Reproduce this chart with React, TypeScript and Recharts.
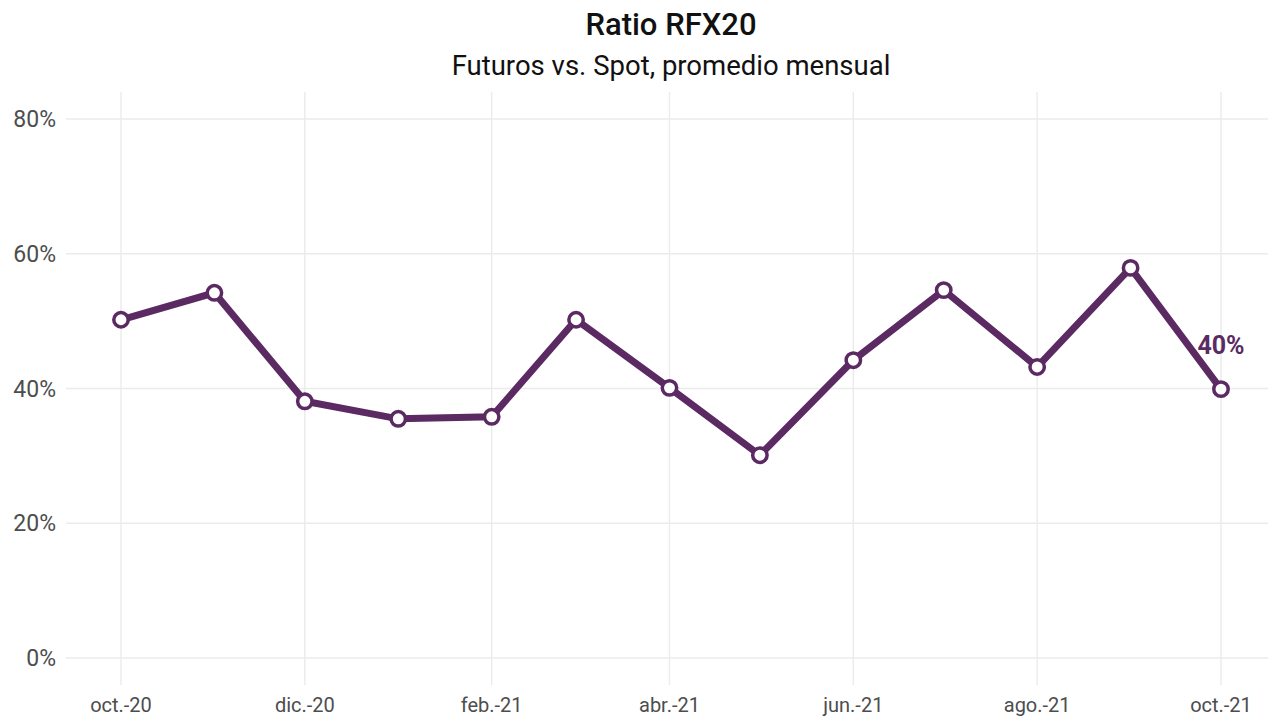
import React from "react";
import { LineChart, Line, XAxis, YAxis, ReferenceLine, LabelList } from "recharts";

// days since 2020-10-01 for the first day of each month
const monthDays = [0, 31, 61, 92, 123, 151, 182, 212, 243, 273, 304, 335, 365];
const monthLabels = ["oct.-20", "nov.-20", "dic.-20", "ene.-21", "feb.-21", "mar.-21", "abr.-21", "may.-21", "jun.-21", "jul.-21", "ago.-21", "sep.-21", "oct.-21"];
const ratioValues = [50.2, 54.2, 38.1, 35.5, 35.8, 50.2, 40.1, 30.1, 44.2, 54.6, 43.2, 57.9, 39.9];

const xTickDays = [0, 61, 123, 182, 243, 304, 365];
const xTickLabels = ["oct.-20", "dic.-20", "feb.-21", "abr.-21", "jun.-21", "ago.-21", "oct.-21"];
const yTicks = [0, 20, 40, 60, 80];

const data = monthDays.map((d, i) => ({ day: d, month: monthLabels[i], ratio: ratioValues[i] }));

const PURPLE = "#5b2a62";
const GRID = "#ebebeb";
const FONT = "Roboto, 'Noto Sans', sans-serif";

const LastLabel = (props: any) => {
  const { x, y, index, value } = props;
  if (index !== data.length - 1) return null;
  return (
    <text x={x} y={y - 44} textAnchor="middle" dominantBaseline="central" fill={PURPLE} fontWeight={700} fontSize={25} fontFamily={FONT}>
      {Math.round(value)}%
    </text>
  );
};

export default function App() {
  return (
    <div style={{ position: "absolute", left: 0, top: 0, width: 1268, height: 717, background: "#fff", fontFamily: FONT }}>
      <div style={{ position: "absolute", left: 0, width: 1342, top: 6, textAlign: "center", fontSize: 31, fontWeight: 500, color: "#111", lineHeight: "38px" }}>
        Ratio RFX20
      </div>
      <div style={{ position: "absolute", left: 0, width: 1342, top: 49, textAlign: "center", fontSize: 27.5, color: "#111", lineHeight: "34px" }}>
        Futuros vs. Spot, promedio mensual
      </div>
      <LineChart width={1268} height={717} data={data} margin={{ top: 92, right: 0, bottom: 0, left: 0 }}>
        <XAxis
          dataKey="day"
          type="number"
          domain={[-18.25, 380.6]}
          allowDataOverflow
          ticks={xTickDays}
          tickFormatter={(v: number) => xTickLabels[xTickDays.indexOf(v)] ?? ""}
          axisLine={false}
          tickLine={false}
          tickSize={0}
          tickMargin={13}
          height={32}
          interval={0}
          tick={{ fill: "#4d4d4d", fontSize: 20, fontFamily: FONT }}
        />
        <YAxis
          type="number"
          domain={[-4, 84]}
          ticks={yTicks}
          tickFormatter={(v: number) => `${v}%`}
          axisLine={false}
          tickLine={false}
          tickSize={0}
          tickMargin={10}
          width={66}
          interval={0}
          tick={{ fill: "#4d4d4d", fontSize: 23, fontFamily: FONT }}
        />
        {yTicks.map((t) => (
          <ReferenceLine key={`h${t}`} y={t} stroke={GRID} strokeWidth={1.4} />
        ))}
        {xTickDays.map((t) => (
          <ReferenceLine key={`v${t}`} x={t} stroke={GRID} strokeWidth={1.4} />
        ))}
        <Line
          type="linear"
          dataKey="ratio"
          stroke={PURPLE}
          strokeWidth={7}
          dot={{ r: 7.2, fill: "#fff", stroke: PURPLE, strokeWidth: 3.5 }}
          activeDot={false}
          isAnimationActive={false}
        >
          <LabelList dataKey="ratio" content={LastLabel} />
        </Line>
      </LineChart>
    </div>
  );
}
